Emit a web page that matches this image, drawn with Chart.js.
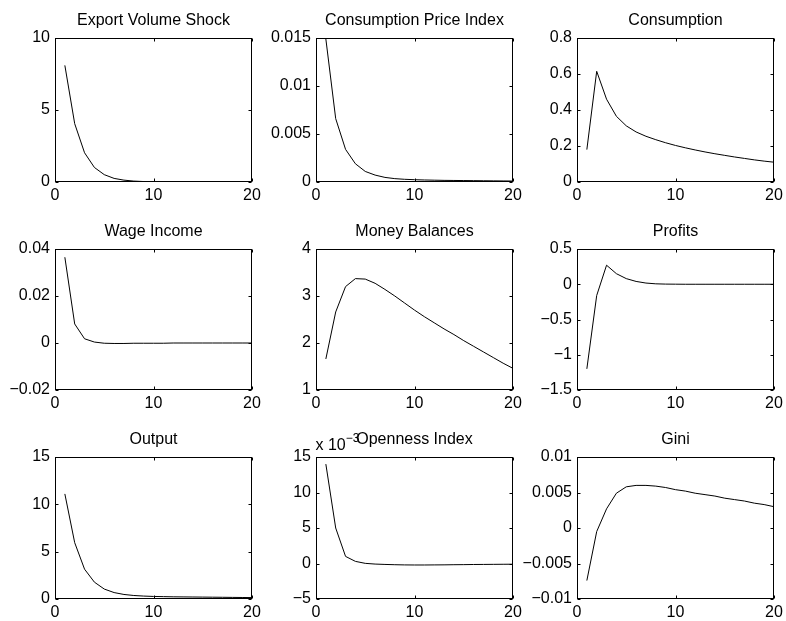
<!DOCTYPE html>
<html>
<head>
<meta charset="utf-8">
<script src="https://cdn.jsdelivr.net/npm/chart.js@4.4.1/dist/chart.umd.min.js"></script>
<style>
body { margin: 0; background: #fff; }
#fig { position: relative; width: 786px; height: 621px; overflow: hidden; background: #fff; }
#fig canvas { position: absolute; }
</style>
</head>
<body>
<div id="fig"></div>
<script>
// impulse responses, periods 1..20
var periods = [1, 2, 3, 4, 5, 6, 7, 8, 9, 10, 11, 12, 13, 14, 15, 16, 17, 18, 19, 20];

var exportShock = [8.1, 4.05, 2.03, 1.01, 0.51, 0.25, 0.13, 0.063, 0.032, 0.016, 0.008, 0.004, 0.002, 0.001, 0.0005, 0.0002, 0.0001, 0.0001, 0, 0];
var cpi = [0.0149, 0.0066, 0.0034, 0.0019, 0.0011, 0.00072, 0.00048, 0.00035, 0.00028, 0.00024, 0.00021, 0.00019, 0.00017, 0.00016, 0.00015, 0.00014, 0.00013, 0.00012, 0.00011, 0.0001];
var consumption = [0.18, 0.615, 0.46, 0.365, 0.312, 0.278, 0.254, 0.235, 0.218, 0.203, 0.19, 0.178, 0.167, 0.157, 0.148, 0.139, 0.131, 0.123, 0.116, 0.11];
var wageIncome = [0.0365, 0.0081, 0.0018, 0.0004, -0.0001, -0.0002, -0.0002, -0.0001, -0.0001, -0.0001, -0.0001, 0, 0, 0, 0, 0, 0, 0, 0, 0];
var moneyBalances = [1.66, 2.66, 3.2, 3.37, 3.36, 3.27, 3.14, 3.0, 2.85, 2.7, 2.56, 2.43, 2.3, 2.18, 2.05, 1.93, 1.81, 1.69, 1.57, 1.46];
var profits = [-1.2, -0.16, 0.27, 0.15, 0.08, 0.04, 0.017, 0.006, 0.002, 0.001, 0, 0, 0, 0, 0, 0, 0, 0, 0, 0];
var output = [11.1, 5.95, 3.15, 1.78, 1.05, 0.68, 0.48, 0.37, 0.31, 0.27, 0.25, 0.23, 0.22, 0.21, 0.2, 0.19, 0.18, 0.17, 0.16, 0.15];
var openness = [0.014, 0.005, 0.001, 0.0003, 0.00002, -0.00008, -0.00013, -0.00017, -0.0002, -0.00021, -0.00021, -0.0002, -0.00019, -0.00017, -0.00016, -0.00014, -0.00013, -0.00012, -0.00011, -0.0001];
var gini = [-0.0074, -0.0005, 0.0027, 0.0049, 0.0058, 0.006, 0.006, 0.0059, 0.0057, 0.0054, 0.0052, 0.0049, 0.0047, 0.0045, 0.0042, 0.004, 0.0038, 0.0035, 0.0033, 0.003];

var titles = ['Export Volume Shock', 'Consumption Price Index', 'Consumption',
              'Wage Income', 'Money Balances', 'Profits',
              'Output', 'Openness Index', 'Gini'];
var series = [exportShock, cpi, consumption, wageIncome, moneyBalances, profits, output, openness, gini];

// y axis limits and tick step per panel
var yMin  = [0, 0, 0, -0.02, 1, -1.5, 0, -0.005, -0.01];
var yMax  = [10, 0.015, 0.8, 0.04, 4, 0.5, 15, 0.015, 0.01];
var yStep = [5, 0.005, 0.2, 0.02, 1, 0.5, 5, 0.005, 0.005];
var yScaleExp = [0, 0, 0, 0, 0, 0, 0, -3, 0];   // MATLAB style "x 10^-3"
var xTicks = [0, 10, 20];

// subplot geometry (plot box in page pixels)
var colLeft = [55, 316, 577];
var rowTop = [38, 249, 457];
var rowH = [144, 141, 142];
var plotW = 197;
var padL = 62, padR = 14, padT = 30, padB = 26;

Chart.defaults.font.family = '"Liberation Sans", Arial, Helvetica, sans-serif';
Chart.defaults.font.size = 16;
Chart.defaults.color = '#000';

function fmt(v, exp) {
    var s = parseFloat(Math.abs(v / Math.pow(10, exp)).toFixed(6)).toString();
    return (v < -1e-12 ? '\u2212' : '') + s;
}

// box + inward ticks like MATLAB axes
var matlabAxes = {
    id: 'matlabAxes',
    afterDraw: function (chart, args, opts) {
        var a = chart.chartArea, ctx = chart.ctx;
        var xs = chart.scales.x, ys = chart.scales.y;
        var l = Math.round(a.left) + 0.5, r = Math.round(a.right) - 0.5;
        var t = Math.round(a.top) + 0.5, b = Math.round(a.bottom) - 0.5;
        ctx.save();
        ctx.strokeStyle = '#000';
        ctx.lineWidth = 1;
        ctx.strokeRect(l, t, r - l, b - t);
        ctx.beginPath();
        xs.ticks.forEach(function (tk) {
            var px = Math.round(xs.getPixelForValue(tk.value)) + 0.5;
            ctx.moveTo(px, b); ctx.lineTo(px, b - 3);
            ctx.moveTo(px, t); ctx.lineTo(px, t + 3);
        });
        ys.ticks.forEach(function (tk) {
            var py = Math.round(ys.getPixelForValue(tk.value)) + 0.5;
            ctx.moveTo(l, py); ctx.lineTo(l + 3, py);
            ctx.moveTo(r, py); ctx.lineTo(r - 3, py);
        });
        ctx.stroke();
        if (opts.exp) {
            ctx.fillStyle = '#000';
            ctx.textAlign = 'left';
            ctx.textBaseline = 'alphabetic';
            ctx.font = '16px "Liberation Sans", Arial, sans-serif';
            var base = 'x 10';
            ctx.fillText(base, l - 1, t - 8);
            var w = ctx.measureText(base).width;
            ctx.font = '12px "Liberation Sans", Arial, sans-serif';
            ctx.fillText('\u2212' + Math.abs(opts.exp), l - 1 + w, t - 16);
        }
        ctx.restore();
    }
};

var fig = document.getElementById('fig');

for (var i = 0; i < 9; i++) {
    (function (i) {
        var row = Math.floor(i / 3), col = i % 3;
        var cv = document.createElement('canvas');
        var w = plotW + padL + padR, h = rowH[row] + padT + padB;
        cv.width = w; cv.height = h;
        cv.style.width = w + 'px'; cv.style.height = h + 'px';
        cv.style.left = (colLeft[col] - padL) + 'px';
        cv.style.top = (rowTop[row] - padT) + 'px';
        fig.appendChild(cv);

        var pts = periods.map(function (p, k) { return { x: p, y: series[i][k] }; });
        var exp = yScaleExp[i];

        new Chart(cv.getContext('2d'), {
            type: 'line',
            data: {
                datasets: [{
                    data: pts,
                    borderColor: '#000',
                    borderWidth: 1,
                    pointRadius: 0,
                    tension: 0,
                    fill: false
                }]
            },
            options: {
                responsive: false,
                animation: false,
                devicePixelRatio: 1,
                layout: { padding: { left: 0, right: padR, top: 0, bottom: 0 } },
                plugins: {
                    legend: { display: false },
                    tooltip: { enabled: false },
                    title: {
                        display: true,
                        text: titles[i],
                        fullSize: false,
                        color: '#000',
                        font: { size: 16, weight: 'normal' },
                        padding: { top: 3, bottom: 7.8 }
                    },
                    matlabAxes: { exp: exp }
                },
                scales: {
                    x: {
                        type: 'linear',
                        min: xTicks[0],
                        max: xTicks[xTicks.length - 1],
                        afterBuildTicks: function (s) { s.ticks = xTicks.map(function (v) { return { value: v }; }); },
                        ticks: { padding: 4, maxRotation: 0, color: '#000', callback: function (v) { return fmt(v, 0); } },
                        grid: { display: false, drawTicks: false },
                        border: { display: false },
                        afterFit: function (s) { s.height = padB; }
                    },
                    y: {
                        type: 'linear',
                        min: yMin[i],
                        max: yMax[i],
                        ticks: { stepSize: yStep[i], padding: 5, color: '#000', callback: function (v) { return fmt(v, exp); } },
                        grid: { display: false, drawTicks: false },
                        border: { display: false },
                        afterFit: function (s) { s.width = padL; }
                    }
                }
            },
            plugins: [matlabAxes]
        });
    })(i);
}
</script>
</body>
</html>
